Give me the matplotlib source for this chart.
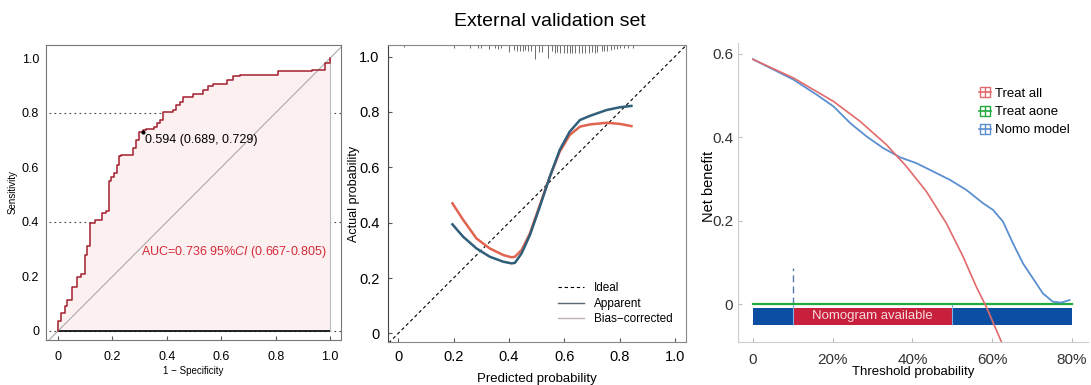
import matplotlib
matplotlib.use('Agg')
import matplotlib.pyplot as plt
from matplotlib.lines import Line2D

plt.rcParams['font.family'] = ['Liberation Sans', 'DejaVu Sans']
plt.rcParams['mathtext.fontset'] = 'custom'
plt.rcParams['mathtext.rm'] = 'Liberation Sans'
plt.rcParams['mathtext.it'] = 'Liberation Sans:italic'

# ROC curve (external validation), corner points of the step curve
roc_fpr = [0, 0, 0.012, 0.027, 0.033, 0.053, 0.07, 0.086, 0.10, 0.107, 0.119, 0.135,
           0.163, 0.175, 0.186, 0.194, 0.205, 0.215, 0.225, 0.23, 0.276, 0.288, 0.298,
           0.311, 0.325, 0.352, 0.362, 0.374, 0.386, 0.421, 0.432, 0.448, 0.46, 0.497,
           0.534, 0.552, 0.57, 0.62, 0.644, 0.669, 0.81, 0.933, 0.982, 1.0]
roc_tpr = [0, 0.037, 0.065, 0.092, 0.114, 0.163, 0.197, 0.21, 0.28, 0.31, 0.395, 0.407,
           0.434, 0.44, 0.548, 0.566, 0.578, 0.609, 0.642, 0.646, 0.67, 0.70, 0.729,
           0.737, 0.742, 0.749, 0.764, 0.774, 0.804, 0.81, 0.829, 0.838, 0.859, 0.869,
           0.884, 0.896, 0.906, 0.92, 0.933, 0.939, 0.951, 0.957, 0.982, 1.0]
cutoff_point = (0.311, 0.729)
cutoff_text = '0.594 (0.689, 0.729)'
auc_text = 'AUC=0.736 95%$\\it{CI}$ (0.667-0.805)'

# calibration curves
cal_x = [0.196, 0.235, 0.283, 0.331, 0.38, 0.41, 0.422, 0.446, 0.476, 0.512, 0.548,
         0.584, 0.62, 0.657, 0.693, 0.753, 0.801, 0.843]
apparent = [0.394, 0.349, 0.307, 0.277, 0.259, 0.253, 0.255, 0.289, 0.355, 0.458, 0.566,
            0.663, 0.729, 0.771, 0.786, 0.807, 0.817, 0.822]
bias_corrected = [0.47, 0.41, 0.343, 0.307, 0.283, 0.275, 0.277, 0.301, 0.361, 0.464,
                  0.566, 0.657, 0.717, 0.747, 0.755, 0.761, 0.757, 0.749]
rug_x = [0.02, 0.2, 0.26, 0.29, 0.30, 0.33, 0.35, 0.36, 0.37, 0.40, 0.42, 0.43, 0.44,
         0.45, 0.46, 0.47, 0.48, 0.495, 0.51, 0.52, 0.542, 0.555, 0.565, 0.575, 0.585,
         0.60, 0.61, 0.62, 0.63, 0.64, 0.655, 0.665, 0.675, 0.69, 0.70, 0.71, 0.72,
         0.735, 0.745, 0.755, 0.77, 0.78, 0.79, 0.80, 0.815, 0.83, 0.85]
rug_len = [0.008, 0.012, 0.01, 0.012, 0.01, 0.015, 0.012, 0.015, 0.012, 0.025, 0.018,
           0.02, 0.022, 0.02, 0.018, 0.022, 0.02, 0.05, 0.025, 0.025, 0.048, 0.022, 0.028,
           0.025, 0.03, 0.03, 0.028, 0.03, 0.028, 0.03, 0.03, 0.028, 0.03, 0.028, 0.025,
           0.028, 0.025, 0.022, 0.02, 0.02, 0.018, 0.015, 0.015, 0.012, 0.012, 0.01, 0.01]

# decision curve
treat_all_x = [0, 0.102, 0.202, 0.269, 0.335, 0.385, 0.435, 0.485, 0.527, 0.56, 0.585, 0.623]
treat_all = [0.587, 0.542, 0.486, 0.438, 0.382, 0.33, 0.27, 0.194, 0.114, 0.042, -0.006, -0.09]
nomo_x = [0, 0.102, 0.16, 0.202, 0.244, 0.285, 0.327, 0.369, 0.41, 0.452, 0.494, 0.535,
          0.577, 0.602, 0.627, 0.652, 0.677, 0.702, 0.727, 0.752, 0.773, 0.794]
nomo = [0.587, 0.538, 0.502, 0.474, 0.434, 0.402, 0.374, 0.352, 0.338, 0.318, 0.298,
        0.274, 0.242, 0.226, 0.198, 0.146, 0.098, 0.062, 0.026, 0.006, 0.004, 0.01]
available = (0.1, 0.5)

fig = plt.figure(figsize=(10.91, 3.85), dpi=100)
fig.text(0.504, 0.943, 'External validation set', ha='center', va='center', fontsize=14)

# ---- ROC ----
ax1 = fig.add_axes([0.0422, 0.1169, 0.2704, 0.7662])
for y in [0, 0.4, 0.8]:
    ax1.plot([-0.05, 1.05], [y, y], ls=(0, (1.5, 3)), color='#444444', lw=0.8, zorder=1)
ax1.fill_between(roc_fpr, roc_tpr, step='post', color='#fdf0f0', lw=0, zorder=2)
ax1.plot([0, 1], [0, 0], color='black', lw=1.2, zorder=3)
ax1.plot([1, 1], [0, 1], color='#bbbbbb', lw=0.8, zorder=3)
ax1.plot([-0.05, 1.05], [-0.05, 1.05], color='#aaaaaa', lw=0.8, zorder=3)
ax1.plot(roc_fpr, roc_tpr, drawstyle='steps-post', color='#a31f2e', lw=1.1, zorder=4)
ax1.plot(*cutoff_point, 'o', color='black', ms=2, zorder=5)
ax1.text(cutoff_point[0] + 0.007, cutoff_point[1] - 0.03, cutoff_text, fontsize=9,
         va='center', ha='left', zorder=5)
ax1.text(0.645, 0.29, auc_text, color='#d52a3a', fontsize=9, ha='center', va='center', zorder=5)
ax1.set_xlim(-0.044, 1.04)
ax1.set_ylim(-0.033, 1.048)
ax1.set_xticks([0, 0.2, 0.4, 0.6, 0.8, 1.0], ['0', '0.2', '0.4', '0.6', '0.8', '1.0'])
ax1.set_yticks([0, 0.2, 0.4, 0.6, 0.8, 1.0], ['0', '0.2', '0.4', '0.6', '0.8', '1.0'])
ax1.tick_params(axis='x', direction='in', length=3, color='#555555', labelsize=9, pad=8)
ax1.tick_params(axis='y', length=0, labelsize=9, pad=5)
for s in ax1.spines.values():
    s.set_color('#777777')
    s.set_linewidth(0.8)
ax1.set_xlabel('1 \u2212 Specificity', fontsize=7, labelpad=2)
ax1.set_ylabel('Sensitivity', fontsize=7)
ax1.yaxis.set_label_coords(-0.095, 0.5)

# ---- calibration ----
ax2 = fig.add_axes([0.3556, 0.1117, 0.2731, 0.7714])
ax2.plot([-0.05, 1.05], [-0.05, 1.05], ls=(0, (3, 2.5)), color='black', lw=0.8)
ax2.plot(cal_x, bias_corrected, color='#e0644f', lw=1.8)
ax2.plot(cal_x, apparent, color='#2f5f7a', lw=1.8)
ax2.vlines(rug_x, [1.042 - l for l in rug_len], 1.042, color='#555555', lw=0.6)
ax2.set_xlim(-0.037, 1.04)
ax2.set_ylim(-0.031, 1.042)
ax2.set_xticks([0, 0.2, 0.4, 0.6, 0.8, 1.0], ['0', '0.2', '0.4', '0.6', '0.8', '1.0'])
ax2.set_yticks([0, 0.2, 0.4, 0.6, 0.8, 1.0], ['0', '0.2', '0.4', '0.6', '0.8', '1.0'])
ax2.tick_params(direction='in', length=3, color='#555555', labelsize=10.5, pad=6)
for s in ax2.spines.values():
    s.set_color('#888888')
    s.set_linewidth(0.8)
ax2.spines['left'].set_color('#444444')
ax2.set_xlabel('Predicted probability', fontsize=9.5, labelpad=6)
ax2.set_ylabel('Actual probability', fontsize=9)
ax2.yaxis.set_label_coords(-0.094, 0.5)
cal_handles = [Line2D([], [], ls=(0, (3, 2.5)), color='black', lw=0.8),
               Line2D([], [], color='#5a6670', lw=1),
               Line2D([], [], color='#c0b0b0', lw=1)]
ax2.legend(cal_handles, ['Ideal', 'Apparent', 'Bias\u2212corrected'], loc='lower right',
           bbox_to_anchor=(0.99, 0.02), frameon=False, fontsize=8.5, handlelength=2.2,
           labelspacing=0.3)

# ---- decision curve ----
ax3 = fig.add_axes([0.6764, 0.1117, 0.3208, 0.7766])
ax3.barh(-0.03, 0.8, left=0, height=0.04, color='#0b4ea2', zorder=1)
ax3.barh(-0.03, available[1] - available[0], left=available[0], height=0.04,
         color='#c8203c', zorder=2)
ax3.vlines(available, -0.05, 0.0, color='#7fb0e8', lw=0.8, zorder=3)
ax3.text(sum(available) / 2, -0.028, 'Nomogram available', color='#f3dada', fontsize=9.5,
         ha='center', va='center', zorder=4)
ax3.plot([available[0], available[0]], [0, 0.088], ls=(0, (5, 3)), color='#5a79ad', lw=1)
ax3.plot([0, 0.8], [0, 0], color='#22aa3c', lw=1.6, zorder=3)
ax3.plot(nomo_x, nomo, color='#5b8fd0', lw=1.3, zorder=4)
ax3.plot(treat_all_x, treat_all, color='#e26a6a', lw=1.2, zorder=5)
ax3.set_xlim(-0.0376, 0.84)
ax3.set_ylim(-0.0905, 0.626)
ax3.set_xticks([0, 0.2, 0.4, 0.6, 0.8], ['0', '20%', '40%', '60%', '80%'])
ax3.set_yticks([0, 0.2, 0.4, 0.6], ['0', '0.2', '0.4', '0.6'])
ax3.tick_params(direction='in', length=3, color='#bbbbbb', labelsize=11, labelcolor='#333333')
ax3.tick_params(axis='x', pad=8)
for s in ['top', 'right']:
    ax3.spines[s].set_visible(False)
for s in ['left', 'bottom']:
    ax3.spines[s].set_color('#cccccc')
    ax3.spines[s].set_linewidth(0.8)
ax3.set_xlabel('Threshold probability', fontsize=9.5, labelpad=-1)
ax3.set_ylabel('Net benefit', fontsize=10.5)
ax3.yaxis.set_label_coords(-0.062, 0.52)
dca_colors = ['#e26a6a', '#22aa3c', '#5b8fd0']
dca_handles = [(Line2D([], [], color=c, marker='s', mfc='none', ms=7, lw=1.2),
                Line2D([], [], color=c, marker='|', ms=7, ls='none'))
               for c in dca_colors]
ax3.legend(dca_handles, ['Treat all', 'Treat aone', 'Nomo model'], loc='upper left',
           bbox_to_anchor=(0.69, 0.85), frameon=False, fontsize=9.5, handlelength=0.9,
           handletextpad=0.3, labelspacing=0.45, borderpad=0, borderaxespad=0)

fig.savefig('out.png', dpi=100)
